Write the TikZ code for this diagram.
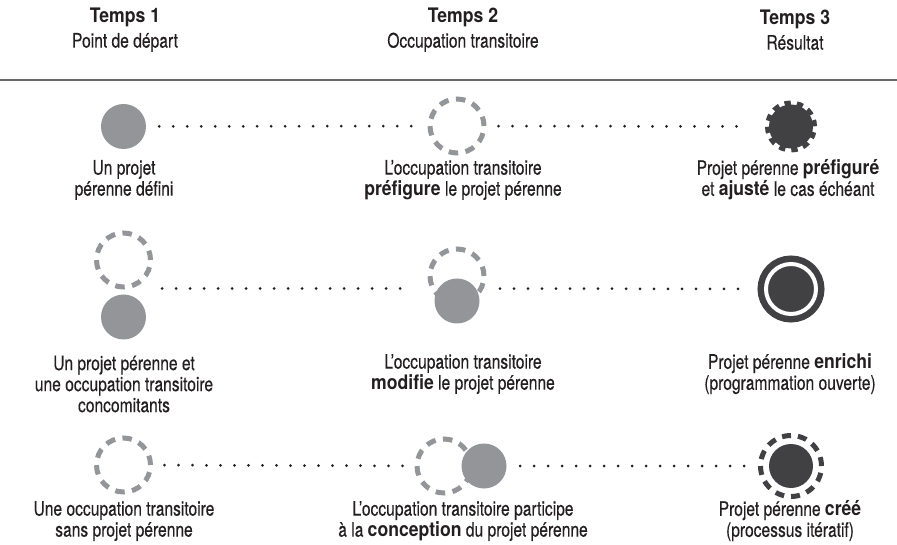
\documentclass[tikz,border=0pt]{standalone}
\usepackage{fontspec}
\setmainfont{TeX Gyre Heros}[UprightFeatures={FakeStretch=0.78,FakeBold=0.3},BoldFeatures={FakeStretch=0.88}]
\usetikzlibrary{calc}
\definecolor{gris}{HTML}{939598}
\definecolor{sombre}{HTML}{414042}
\definecolor{encre}{HTML}{231F20}
\tikzset{
  perenne/.style={circle,fill=gris,minimum size=45pt,inner sep=0pt},
  transit/.style={circle,draw=gris,line width=5pt,dash pattern=on 9.5pt off 7.46pt,minimum size=54pt,inner sep=0pt},
  prefigure/.style={circle,fill=sombre,draw=sombre,line width=8pt,dash pattern=on 6pt off 5.52pt,minimum size=44pt,inner sep=0pt},
  enrichi/.style={circle,fill=sombre,draw=sombre,double=white,double distance=4pt,line width=6.5pt,minimum size=50pt,inner sep=0pt},
  cree/.style={circle,draw=sombre,line width=5pt,dash pattern=on 9pt off 6.97pt,minimum size=61pt,inner sep=0pt,
    path picture={\fill[sombre] (path picture bounding box.center) circle (22pt);}},
  pointille/.style={draw=encre,line width=3pt,line cap=round,dash pattern=on 0pt off 14pt},
  legende/.style={align=center,text=encre,font=\fontsize{20}{21}\selectfont,inner sep=0pt},
  entete/.style={legende,font=\fontsize{20}{25}\selectfont}
}
\begin{document}
\begin{tikzpicture}[x=1pt,y=-1pt]
  \useasboundingbox (0,0) rectangle (897,545);
  \node[entete] (h1) at (125,30) {\textbf{Temps 1}\\Point de départ};
  \node[entete] (h2) at (463,30) {\textbf{Temps 2}\\Occupation transitoire};
  \node[entete] (h3) at (795,30) {\textbf{Temps 3}\\Résultat};
  \draw[gris!70!black,line width=1.4pt] (0,80) -- (897,80);

  \node[perenne] (p11) at (123.5,126.5) {};
  \node[transit] (o12) at (457,126) {};
  \node[prefigure] (r13) at (791,126.5) {};
  \draw[pointille,shorten <=13pt,shorten >=10pt] (p11) -- (o12);
  \draw[pointille,shorten <=12pt,shorten >=20pt] (o12) -- (r13);
  \node[legende] (l11) at (124,180) {Un projet\\pérenne défini};
  \node[legende] (l12) at (463,180) {L’occupation transitoire\\\textbf{préfigure} le projet pérenne};
  \node[legende] (l13) at (788,180) {Projet pérenne \textbf{préfiguré}\\et \textbf{ajusté} le cas échéant};

  \node[transit] (o21) at (123.5,260) {};
  \node[perenne] (p21) at (123.5,317) {};
  \node[transit] (o22) at (457,276) {};
  \node[perenne] (p22) at (457,301) {};
  \node[enrichi] (r23) at (791,289) {};
  \coordinate (m21) at ($(o21)!.5!(p21)$);
  \coordinate (m22) at ($(o22)!.5!(p22)$);
  \draw[pointille,shorten <=38.5pt,shorten >=52pt] (m21) -- (m22);
  \draw[pointille,shorten <=43pt,shorten >=24pt] (m22) -- (r23);
  \node[legende] (l21) at (124,384) {Un projet pérenne et\\une occupation transitoire\\concomitants};
  \node[legende] (l22) at (463,374) {L’occupation transitoire\\\textbf{modifie} le projet pérenne};
  \node[legende] (l23) at (790,374) {Projet pérenne \textbf{enrichi}\\(programmation ouverte)};

  \node[transit] (o31) at (123.5,465) {};
  \node[transit] (o32) at (444,466) {};
  \node[perenne] (p32) at (484,466) {};
  \node[cree] (r33) at (791,466) {};
  \draw[pointille,shorten <=11.5pt,shorten >=12pt] (o31) -- (o32);
  \draw[pointille,shorten <=13.5pt,shorten >=13.5pt] (p32) -- (r33);
  \node[legende] (l31) at (124,521) {Une occupation transitoire\\sans projet pérenne};
  \node[legende] (l32) at (463,521) {L’occupation transitoire participe\\à la \textbf{conception} du projet pérenne};
  \node[legende] (l33) at (790,521) {Projet pérenne \textbf{créé}\\(processus itératif)};
\end{tikzpicture}
\end{document}
